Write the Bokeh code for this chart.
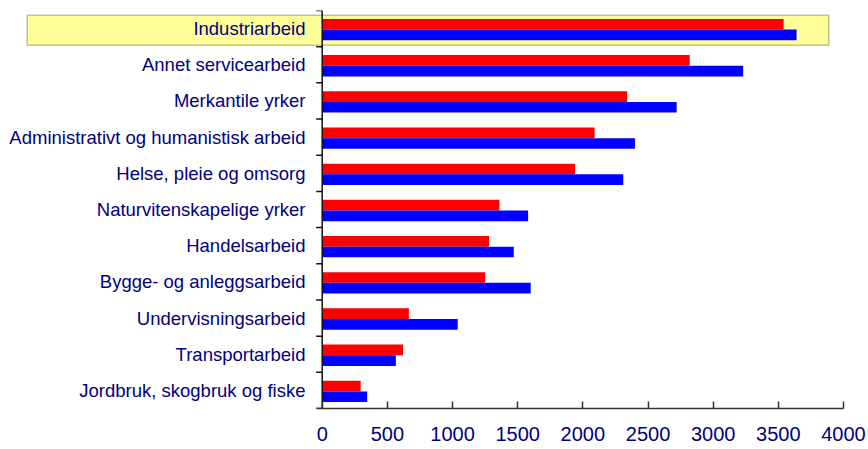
import numpy as np
from bokeh.plotting import figure
from bokeh.models import Range1d, FixedTicker, BoxAnnotation, ColumnDataSource
from bokeh.core.properties import value
from bokeh.embed import file_html
from bokeh.resources import INLINE

categories = [
    "Industriarbeid",
    "Annet servicearbeid",
    "Merkantile yrker",
    "Administrativt og humanistisk arbeid",
    "Helse, pleie og omsorg",
    "Naturvitenskapelige yrker",
    "Handelsarbeid",
    "Bygge- og anleggsarbeid",
    "Undervisningsarbeid",
    "Transportarbeid",
    "Jordbruk, skogbruk og fiske",
]
red_values = [3540, 2820, 2340, 2090, 1940, 1360, 1280, 1250, 665, 620, 295]
blue_values = [3640, 3230, 2720, 2400, 2310, 1580, 1470, 1600, 1040, 565, 345]
x_ticks = [0, 500, 1000, 1500, 2000, 2500, 3000, 3500, 4000]
highlight = "Industriarbeid"

# layout (pixels)
W, H = 868, 449
border_right, border_top, border_bottom = 25, 10, 41
axis_px = 321.7            # pixel distance from frame left to the value axis (x = 0)
xmax = 4000
frame_w = W - border_right
px_per_unit = (frame_w - axis_px) / xmax
xmin = -axis_px / px_per_unit
tick_len = 6 / px_per_unit
box_left = -(axis_px - 26.7) / px_per_unit
box_right = (828.3 - axis_px) / px_per_unit

n = len(categories)
yc = n - 0.5 - np.arange(n)

src = ColumnDataSource(dict(
    y=yc,
    y_red=yc + 0.12,
    y_blue=yc - 0.175,
    red=red_values,
    blue=blue_values,
    cat=categories,
))

bnd = [float(b) for b in range(n + 1)]
xs = [[float(-tick_len), 0.0] for _ in bnd] + [[0.0, 0.0]]
ys = [[b, b] for b in bnd] + [[0.0, float(n)]]
axis_src = ColumnDataSource(dict(xs=xs, ys=ys))

p = figure(width=W, height=H, output_backend="svg", toolbar_location=None,
           x_range=Range1d(float(xmin), xmax), y_range=Range1d(0, n),
           min_border_left=0, min_border_right=border_right,
           min_border_top=border_top, min_border_bottom=border_bottom)
p.outline_line_color = None
p.xgrid.visible = False
p.ygrid.visible = False
p.yaxis.visible = False
p.background_fill_color = "white"
p.border_fill_color = "white"

hi = categories.index(highlight)
box = BoxAnnotation(left=float(box_left), right=float(box_right),
                    top=float(yc[hi] + 0.37), bottom=float(yc[hi] - 0.46),
                    fill_color="#FFFF99", fill_alpha=1.0,
                    line_color="#333333", line_width=1.5, level="underlay")
p.add_layout(box)

p.hbar(y="y_red", right="red", left=0, height=0.295, source=src,
       fill_color="#FF0000", line_color=None)
p.hbar(y="y_blue", right="blue", left=0, height=0.295, source=src,
       fill_color="#0000FF", line_color=None)

# category axis drawn by hand so that the highlight box may extend under the labels
p.multi_line(xs="xs", ys="ys", source=axis_src, line_color="#111111",
             line_width=1.5, line_alpha=1.0)
p.text(x=0, y="y", text="cat", source=src, x_offset=-16.7,
       text_align="right", text_baseline="middle",
       text_font=value("Liberation Sans"), text_font_size="18.5px",
       text_color="#000080")

# x axis
p.xaxis.bounds = (float(-tick_len), xmax)
p.xaxis.ticker = FixedTicker(ticks=x_ticks, minor_ticks=[])
p.xaxis.major_tick_in = 7
p.xaxis.major_tick_out = 0
p.xaxis.major_tick_line_color = "#333333"
p.xaxis.axis_line_color = "#333333"
p.xaxis.major_tick_line_width = 1.5
p.xaxis.axis_line_width = 1.5
p.xaxis.major_label_standoff = 18
p.xaxis.major_label_text_font = "Liberation Sans"
p.xaxis.major_label_text_font_size = "20px"
p.xaxis.major_label_text_color = "#000080"

open("out.html", "w").write(file_html(p, INLINE))
